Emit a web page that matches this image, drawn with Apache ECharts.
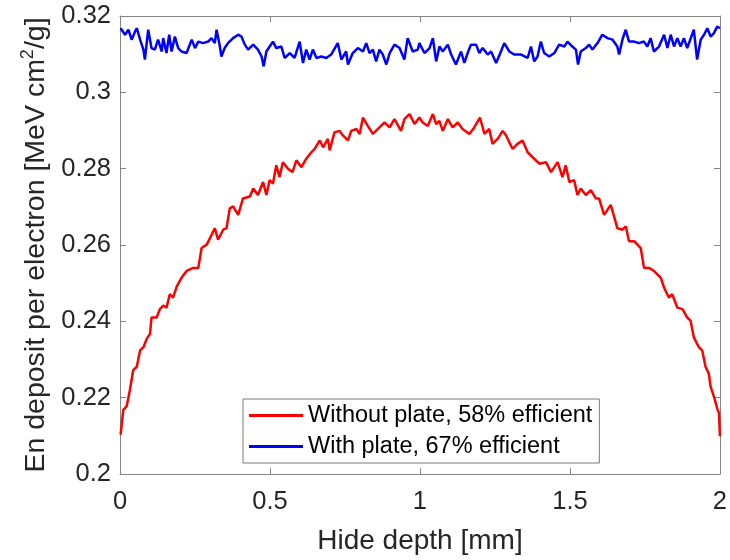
<!DOCTYPE html>
<html><head><meta charset="utf-8">
<script src="https://cdn.jsdelivr.net/npm/echarts@6/dist/echarts.min.js"></script>
<style>html,body{margin:0;padding:0;background:#fff}#c{width:730px;height:560px}</style>
</head><body><div id="c"></div><script>
const seriesNames = ['Without plate, 58% efficient', 'With plate, 67% efficient'];
const xTickValues = [0, 0.5, 1, 1.5, 2];
const yTickValues = [0.2, 0.22, 0.24, 0.26, 0.28, 0.3, 0.32];

// [depth mm, energy deposit]
const withoutPlate = [
[0.002,0.2103],[0.011,0.2168],[0.022,0.2177],[0.033,0.2220],[0.044,0.2272],[0.056,0.2281],[0.067,0.2324],[0.078,0.2332],[0.089,0.2354],[0.100,0.2367],
[0.105,0.2410],[0.122,0.2410],[0.133,0.2432],[0.144,0.2441],[0.155,0.2436],[0.166,0.2471],[0.177,0.2462],[0.189,0.2491],[0.205,0.2514],[0.222,0.2532],
[0.244,0.2540],[0.261,0.2540],[0.272,0.2592],[0.289,0.2601],[0.300,0.2618],[0.316,0.2644],[0.327,0.2614],[0.344,0.2640],[0.355,0.2644],[0.366,0.2696],
[0.377,0.2701],[0.394,0.2679],[0.410,0.2722],[0.433,0.2727],[0.444,0.2748],[0.460,0.2731],[0.477,0.2765],[0.488,0.2731],[0.499,0.2770],[0.510,0.2761],
[0.521,0.2809],[0.532,0.2778],[0.543,0.2817],[0.560,0.2800],[0.575,0.2791],[0.588,0.2822],[0.605,0.2804],[0.621,0.2826],[0.638,0.2843],[0.649,0.2852],
[0.666,0.2874],[0.677,0.2856],[0.693,0.2878],[0.699,0.2848],[0.715,0.2895],[0.732,0.2899],[0.743,0.2887],[0.760,0.2874],[0.771,0.2899],[0.788,0.2904],
[0.799,0.2891],[0.810,0.2934],[0.826,0.2912],[0.843,0.2891],[0.865,0.2908],[0.882,0.2921],[0.899,0.2908],[0.915,0.2930],[0.937,0.2899],[0.948,0.2930],
[0.965,0.2943],[0.982,0.2917],[0.998,0.2934],[1.009,0.2921],[1.026,0.2912],[1.043,0.2943],[1.054,0.2917],[1.065,0.2925],[1.076,0.2899],[1.093,0.2930],
[1.109,0.2908],[1.126,0.2921],[1.142,0.2904],[1.165,0.2891],[1.181,0.2908],[1.200,0.2934],[1.215,0.2891],[1.231,0.2904],[1.242,0.2865],[1.259,0.2878],
[1.276,0.2899],[1.287,0.2887],[1.298,0.2869],[1.309,0.2852],[1.325,0.2865],[1.342,0.2874],[1.359,0.2843],[1.381,0.2826],[1.398,0.2813],[1.420,0.2817],
[1.437,0.2791],[1.459,0.2817],[1.475,0.2778],[1.486,0.2809],[1.498,0.2765],[1.514,0.2770],[1.525,0.2731],[1.536,0.2748],[1.553,0.2731],[1.570,0.2744],
[1.586,0.2722],[1.597,0.2722],[1.614,0.2679],[1.636,0.2705],[1.647,0.2675],[1.658,0.2644],[1.675,0.2640],[1.686,0.2649],[1.697,0.2610],[1.714,0.2610],
[1.736,0.2592],[1.747,0.2540],[1.764,0.2540],[1.780,0.2532],[1.803,0.2514],[1.814,0.2488],[1.830,0.2462],[1.841,0.2471],[1.858,0.2436],[1.875,0.2432],
[1.891,0.2410],[1.902,0.2402],[1.913,0.2358],[1.930,0.2332],[1.941,0.2324],[1.952,0.2281],[1.963,0.2263],[1.969,0.2229],[1.980,0.2203],[1.991,0.2172],
[1.997,0.2159],[2.000,0.2099]
];
const withPlate = [
[0.002,0.3168],[0.017,0.3151],[0.028,0.3164],[0.039,0.3138],[0.050,0.3159],[0.056,0.3168],[0.067,0.3138],[0.078,0.3112],[0.083,0.3086],[0.094,0.3164],
[0.105,0.3116],[0.116,0.3112],[0.127,0.3138],[0.139,0.3107],[0.144,0.3142],[0.155,0.3103],[0.164,0.3151],[0.172,0.3107],[0.183,0.3146],[0.194,0.3116],
[0.205,0.3107],[0.222,0.3103],[0.239,0.3138],[0.250,0.3116],[0.261,0.3133],[0.277,0.3129],[0.294,0.3133],[0.305,0.3142],[0.316,0.3129],[0.322,0.3164],
[0.333,0.3120],[0.338,0.3094],[0.349,0.3116],[0.360,0.3129],[0.377,0.3142],[0.394,0.3151],[0.405,0.3146],[0.416,0.3125],[0.427,0.3112],[0.444,0.3125],
[0.460,0.3112],[0.472,0.3094],[0.479,0.3068],[0.488,0.3107],[0.499,0.3120],[0.510,0.3133],[0.521,0.3116],[0.538,0.3120],[0.549,0.3090],[0.566,0.3103],
[0.582,0.3090],[0.599,0.3133],[0.610,0.3077],[0.621,0.3112],[0.632,0.3086],[0.643,0.3112],[0.655,0.3090],[0.671,0.3094],[0.688,0.3090],[0.704,0.3099],
[0.726,0.3129],[0.738,0.3086],[0.754,0.3107],[0.760,0.3073],[0.776,0.3103],[0.793,0.3116],[0.810,0.3107],[0.821,0.3129],[0.832,0.3103],[0.843,0.3112],
[0.854,0.3081],[0.865,0.3112],[0.876,0.3099],[0.888,0.3073],[0.899,0.3103],[0.915,0.3125],[0.932,0.3116],[0.948,0.3086],[0.959,0.3142],[0.976,0.3107],
[0.993,0.3112],[0.998,0.3129],[1.015,0.3103],[1.032,0.3116],[1.043,0.3142],[1.054,0.3081],[1.065,0.3120],[1.076,0.3107],[1.093,0.3125],[1.104,0.3099],
[1.120,0.3073],[1.137,0.3107],[1.148,0.3077],[1.159,0.3103],[1.170,0.3125],[1.187,0.3125],[1.198,0.3103],[1.209,0.3116],[1.226,0.3099],[1.237,0.3107],
[1.254,0.3077],[1.270,0.3107],[1.281,0.3129],[1.298,0.3107],[1.314,0.3099],[1.337,0.3099],[1.359,0.3090],[1.370,0.3120],[1.381,0.3081],[1.392,0.3094],
[1.403,0.3133],[1.414,0.3103],[1.431,0.3094],[1.448,0.3103],[1.464,0.3125],[1.481,0.3120],[1.492,0.3133],[1.508,0.3120],[1.520,0.3112],[1.527,0.3073],
[1.536,0.3107],[1.553,0.3116],[1.564,0.3125],[1.575,0.3112],[1.592,0.3129],[1.608,0.3151],[1.625,0.3142],[1.642,0.3138],[1.658,0.3120],[1.664,0.3099],
[1.675,0.3138],[1.686,0.3164],[1.697,0.3133],[1.714,0.3133],[1.730,0.3129],[1.747,0.3133],[1.758,0.3120],[1.769,0.3142],[1.780,0.3107],[1.797,0.3120],
[1.814,0.3151],[1.825,0.3116],[1.836,0.3151],[1.847,0.3120],[1.858,0.3142],[1.869,0.3120],[1.880,0.3142],[1.891,0.3116],[1.913,0.3164],[1.924,0.3086],
[1.936,0.3138],[1.947,0.3151],[1.958,0.3168],[1.969,0.3146],[1.980,0.3155],[1.991,0.3172],[2.000,0.3168]
];

const FONT = 'Liberation Sans, Arial, Helvetica, sans-serif';
const AX = '#858585';
const TXT = '#262626';
const fmt = v => String(+(+v).toFixed(2));

function xAx(pos, labels, name) {
  return {
    type: 'value', min: xTickValues[0], max: xTickValues[xTickValues.length - 1],
    interval: xTickValues[1] - xTickValues[0], position: pos,
    axisLine: { show: true, onZero: false, lineStyle: { color: AX, width: 1 } },
    axisTick: { show: true, inside: true, length: 6, lineStyle: { color: AX, width: 1 } },
    axisLabel: { show: labels, margin: 15, fontSize: 25.5, color: TXT, fontFamily: FONT, formatter: fmt },
    splitLine: { show: false },
    name: name, nameLocation: 'middle', nameGap: 53,
    nameTextStyle: { fontSize: 28, color: TXT, fontFamily: FONT }
  };
}
function yAx(pos, labels, name) {
  return {
    type: 'value', min: yTickValues[0], max: yTickValues[yTickValues.length - 1],
    interval: 0.02, position: pos,
    axisLine: { show: true, onZero: false, lineStyle: { color: AX, width: 1 } },
    axisTick: { show: true, inside: true, length: 6, lineStyle: { color: AX, width: 1 } },
    axisLabel: { show: labels, margin: 9, fontSize: 25.5, color: TXT, fontFamily: FONT, formatter: fmt },
    splitLine: { show: false },
    name: name, nameLocation: 'middle', nameGap: 67,
    nameTextStyle: {
      fontSize: 28, color: TXT, fontFamily: FONT,
      rich: {
        a: { fontSize: 28.5, color: TXT, fontFamily: FONT, lineHeight: 34 },
        s: { fontSize: 18, color: TXT, fontFamily: FONT, verticalAlign: 'top', lineHeight: 34 }
      }
    }
  };
}

const chart = echarts.init(document.getElementById('c'), null, { renderer: 'canvas' });
chart.setOption({
  animation: false,
  backgroundColor: '#fff',
  grid: { left: 120, right: 9, top: 16, bottom: 82, containLabel: false },
  xAxis: [xAx('bottom', true, 'Hide depth [mm]'), xAx('top', false, '')],
  yAxis: [yAx('left', true, '{a|En deposit per electron [MeV cm}{s|2}{a|/g]}'), yAx('right', false, '')],
  legend: {
    orient: 'vertical', left: 243, top: 399,
    data: seriesNames,
    icon: 'rect', itemWidth: 54, itemHeight: 3, itemGap: 2,
    padding: [2, 7, 2, 6],
    backgroundColor: '#fff', borderColor: '#7a7a7a', borderWidth: 1, borderRadius: 0,
    textStyle: { fontSize: 23.5, color: '#000', fontFamily: FONT, lineHeight: 29 }
  },
  series: [
    { name: seriesNames[0], type: 'line', data: withoutPlate, symbol: 'none', showSymbol: false,
      color: '#ff0000', lineStyle: { color: '#ff0000', width: 2.5 }, xAxisIndex: 0, yAxisIndex: 0 },
    { name: seriesNames[1], type: 'line', data: withPlate, symbol: 'none', showSymbol: false,
      color: '#0000ff', lineStyle: { color: '#0000ff', width: 2.5 }, xAxisIndex: 0, yAxisIndex: 0 }
  ]
});
</script></body></html>
